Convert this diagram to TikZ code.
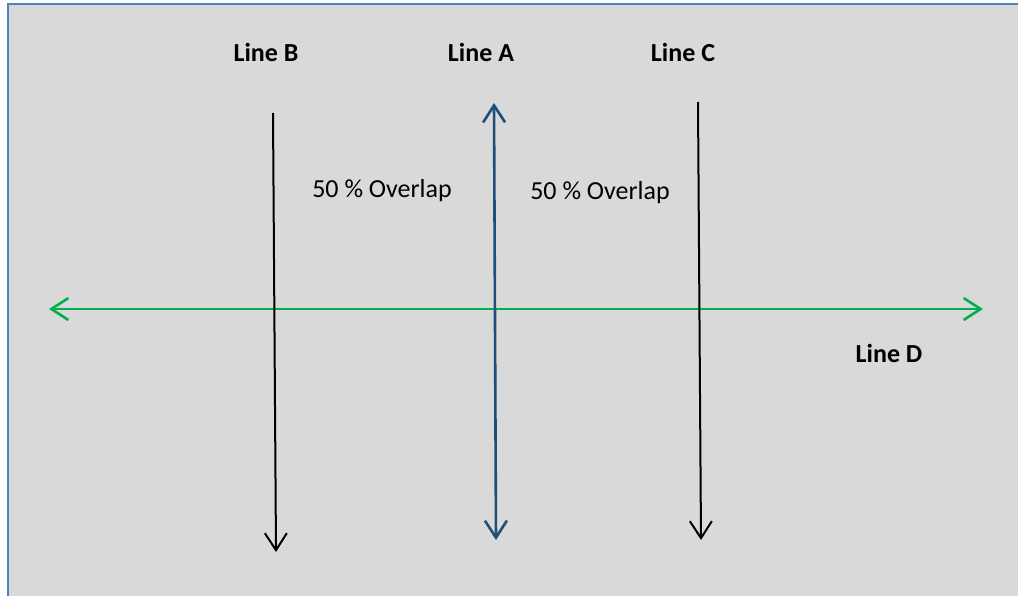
\documentclass[tikz,border=0pt]{standalone}
\usepackage{fontspec}
\setmainfont{Carlito}
\usetikzlibrary{arrows.meta}
\definecolor{bggray}{HTML}{D9D9D9}
\definecolor{frameblue}{HTML}{4F81BD}
\definecolor{lineblue}{HTML}{1F4E79}
\definecolor{linegreen}{HTML}{00B050}
\tikzset{
  barb/.style={-{Straight Barb[length=17pt,width=22pt]}},
  dbarb/.style={{Straight Barb[length=17pt,width=22pt]}-{Straight Barb[length=17pt,width=22pt]}},
  lbl/.style={font=\fontsize{26}{30}\selectfont\bfseries, anchor=base, inner sep=0pt},
  txt/.style={font=\fontsize{26}{30}\selectfont, anchor=base, inner sep=0pt},
}
\begin{document}
\begin{tikzpicture}[x=1pt,y=-1pt]
\useasboundingbox (0,0) rectangle (1018,596);
\fill[white] (0,0) rectangle (1018,596);
\fill[bggray] (8,4) rectangle (1018,596);
\draw[frameblue, line width=2pt] (8,596) -- (8,4) -- (1018,4);
% endpoints
\coordinate (bt) at (273,113);
\coordinate (bb) at (276,552);
\coordinate (at) at (494,103);
\coordinate (ab) at (496,540);
\coordinate (ct) at (698,102);
\coordinate (cb) at (701,540);
\coordinate (dl) at (49,309);
\coordinate (dr) at (983,309);
% lines
\draw[linegreen, line width=2.6pt, dbarb] (dl) -- (dr);
\draw[black, line width=2pt, barb] (bt) -- (bb);
\draw[black, line width=2pt, barb] (ct) -- (cb);
\draw[lineblue, line width=2.6pt, dbarb] (at) -- (ab);
% labels
\node[lbl] (lB) at (266,62) {Line B};
\node[lbl] (lA) at (481,62) {Line A};
\node[lbl] (lC) at (683,62) {Line C};
\node[lbl] (lD) at (889,362) {Line D};
\node[txt] (o1) at (382,198) {50 \% Overlap};
\node[txt] (o2) at (600,200) {50 \% Overlap};
\end{tikzpicture}
\end{document}
